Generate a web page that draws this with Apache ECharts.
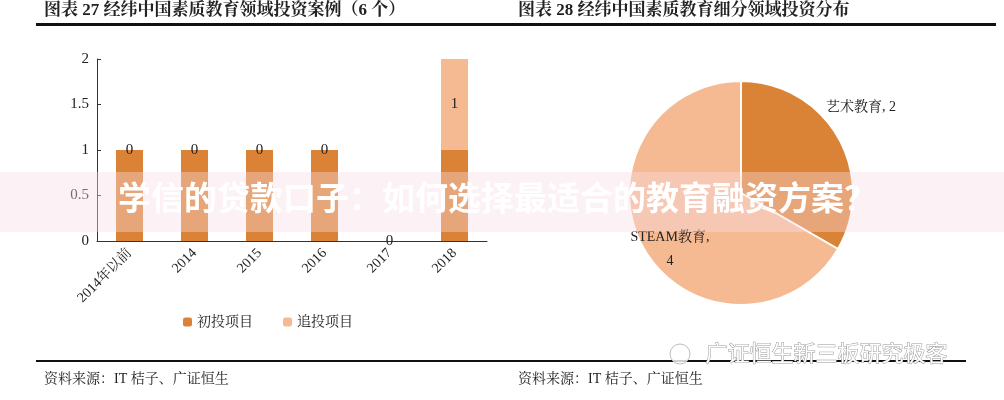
<!DOCTYPE html><html><head><meta charset="utf-8"><script src="https://cdn.jsdelivr.net/npm/echarts@6/dist/echarts.min.js"></script>
<style>body{margin:0;background:#fff}#c{width:1004px;height:400px}</style></head><body><div id="c"></div><script>
const categories=['2014年以前','2014','2015','2016','2017','2018'];
const initialVals=[1,1,1,1,0,1];
const followVals=[0,0,0,0,0,1];
const pieNames=['艺术教育','STEAM教育'];
const pieVals=[2,4];
const yTicks=[0,0.5,1,1.5,2];
const C1='#DA8235',C2='#F6BA93',serif='"Liberation Serif","Noto Serif CJK SC","Noto Sans CJK SC",serif';
const ch=echarts.init(document.getElementById('c'));
ch.setOption({animation:false,textStyle:{fontFamily:serif},
grid:{left:97,right:517,top:59,bottom:159},
xAxis:{type:'category',data:categories,axisTick:{show:false},axisLine:{lineStyle:{color:'#333'}},
 axisLabel:{rotate:45,color:'#222',fontSize:14,fontFamily:serif,margin:10}},
yAxis:{type:'value',min:0,max:2,interval:0.5,splitLine:{show:false},axisLine:{show:true,lineStyle:{color:'#333'}},axisTick:{show:true,length:4,inside:true},
 axisLabel:{color:'#222',fontSize:15,fontFamily:serif,formatter:v=>yTicks.includes(v)?String(v):''}},
legend:{bottom:66,left:178,itemWidth:9,itemHeight:9,itemGap:30,textStyle:{fontSize:14,color:'#222',fontFamily:serif},data:['初投项目','追投项目']},
series:[
{name:'初投项目',type:'bar',stack:'a',barWidth:27,data:initialVals,itemStyle:{color:C1}},
{name:'追投项目',type:'bar',stack:'a',barWidth:27,data:followVals,itemStyle:{color:C2},
 label:{show:true,position:'inside',color:'#222',fontSize:15,fontFamily:serif}},
{type:'pie',center:[741,193],radius:112,startAngle:90,clockwise:true,
 itemStyle:{borderColor:'#fff',borderWidth:2},labelLine:{show:false},
 data:[{name:pieNames[0],value:pieVals[0],itemStyle:{color:C1},label:{position:'outside',formatter:'{b}, {c}',distance:-10,offset:[-60,-22],fontSize:14,color:'#222'}},
  {name:pieNames[1],value:pieVals[1],itemStyle:{color:C2},label:{position:'inside',formatter:'{b},\n{c}',offset:[-20,27],fontSize:14,color:'#222',align:'center',lineHeight:24}}]}
],
graphic:[
{type:'text',z:100,left:44,top:2,style:{text:'图表 27 经纬中国素质教育领域投资案例（6 个）',font:'bold 17px '+serif,fill:'#222'}},
{type:'text',z:100,left:518,top:2,style:{text:'图表 28 经纬中国素质教育细分领域投资分布',font:'bold 17px '+serif,fill:'#222'}},
{type:'rect',z:100,shape:{x:36,y:23,width:960,height:3},style:{fill:'#111'}},
{type:'rect',z:100,shape:{x:36,y:360,width:930,height:2},style:{fill:'#111'}},
{type:'text',z:100,left:44,top:372,style:{text:'资料来源：IT 桔子、广证恒生',font:'14px '+serif,fill:'#222'}},
{type:'text',z:100,left:518,top:372,style:{text:'资料来源：IT 桔子、广证恒生',font:'14px '+serif,fill:'#222'}},
{type:'text',z:100,left:705,top:341,style:{text:'广证恒生新三板研究极客',font:'22px "Noto Sans CJK SC"',fill:'#fff',stroke:'#999',lineWidth:1}},
{type:'circle',z:100,shape:{cx:680,cy:354,r:10},style:{fill:'rgba(255,255,255,0.8)',stroke:'#bbb'}},
{type:'rect',z:100,shape:{x:0,y:172,width:1004,height:60},style:{fill:'rgba(248,220,228,0.4)'}},
{type:'text',z:101,left:118,top:181,style:{text:'学信的贷款口子：如何选择最适合的教育融资方案？',font:'bold 33px "Noto Sans CJK SC"',fill:'#fff',shadowBlur:4,shadowColor:'rgba(0,0,0,0.5)'}}
]});
</script></body></html>
